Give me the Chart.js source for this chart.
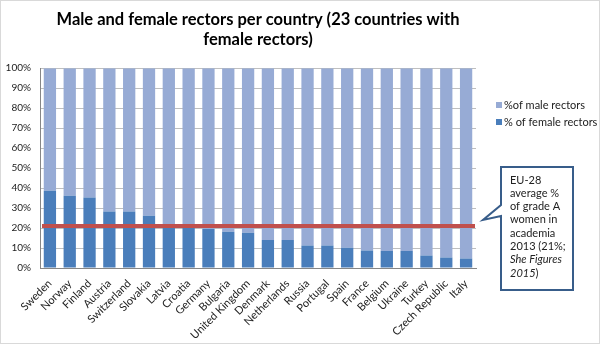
<!DOCTYPE html>
<html>
<head>
<meta charset="utf-8">
<script src="https://cdn.jsdelivr.net/npm/chart.js@4"></script>
<style>
  html, body { margin: 0; padding: 0; background: #fff; }
  #wrap { width: 600px; height: 344px; }
</style>
</head>
<body>
<div id="wrap"><canvas id="rectorsChart" width="600" height="344"></canvas></div>
<script>
const countries = ['Sweden', 'Norway', 'Finland', 'Austria', 'Switzerland', 'Slovakia', 'Latvia', 'Croatia',
    'Germany', 'Bulgaria', 'United Kingdom', 'Denmark', 'Netherlands', 'Russia', 'Portugal', 'Spain',
    'France', 'Belgium', 'Ukraine', 'Turkey', 'Czech Republic', 'Italy'];
const femaleShare = [38.7, 36.2, 35.3, 28.3, 28.3, 26.2, 21.0, 20.5, 19.5, 18.2, 17.7, 14.0, 14.0, 11.3,
    11.3, 10.2, 8.8, 8.5, 8.5, 6.3, 5.2, 4.7];
const maleShare = [61.3, 63.8, 64.7, 71.7, 71.7, 73.8, 79.0, 79.5, 80.5, 81.8, 82.3, 86.0, 86.0, 88.7,
    88.7, 89.8, 91.2, 91.5, 91.5, 93.7, 94.8, 95.3];
const euAverage = 21;
const yTicks = [0, 10, 20, 30, 40, 50, 60, 70, 80, 90, 100];
const calloutLines = ['EU-28', 'average %', 'of grade A', 'women in', 'academia', '2013 (21%;'];

const FONT = 'Lato, "Open Sans", sans-serif';

// EU average line across the whole plot area, on top of the bars
const avgLine = {
    id: 'avgLine',
    afterDatasetsDraw(chart) {
        const { ctx: c, chartArea: a, scales: { y } } = chart;
        const py = y.getPixelForValue(euAverage);
        c.save();
        c.strokeStyle = '#c0504d';
        c.lineWidth = 4;
        c.beginPath();
        c.moveTo(a.left + 2, py);
        c.lineTo(a.right - 1, py);
        c.stroke();
        c.restore();
    }
};

// callout box, legend and chart frame
const extras = {
    id: 'extras',
    afterDraw(chart) {
        const c = chart.ctx;
        c.save();

        // outer frame
        c.strokeStyle = '#d9d9d9';
        c.lineWidth = 1;
        c.strokeRect(0.5, 0.5, chart.width - 1, chart.height - 1);

        // legend (male first, like the original)
        const legendItems = [chart.data.datasets[1], chart.data.datasets[0]];
        c.font = '11px ' + FONT;
        c.textBaseline = 'middle';
        legendItems.forEach((ds, i) => {
            const y = 105 + i * 17;
            c.fillStyle = ds.backgroundColor;
            c.fillRect(496, y - 3, 6, 6);
            c.fillStyle = '#222';
            c.fillText(ds.label, 504, y);
        });

        // callout
        c.beginPath();
        c.moveTo(501, 167);
        c.lineTo(573, 167);
        c.lineTo(573, 290);
        c.lineTo(501, 290);
        c.lineTo(501, 216);
        c.lineTo(483, 220);
        c.lineTo(501, 205);
        c.closePath();
        c.fillStyle = '#fff';
        c.fill();
        c.strokeStyle = '#385d8a';
        c.lineWidth = 2;
        c.stroke();

        c.fillStyle = '#222';
        c.font = '11px ' + FONT;
        calloutLines.forEach((t, i) => c.fillText(t, 510, 180 + i * 13.3));
        c.font = 'italic 11px ' + FONT;
        c.fillText('She Figures', 510, 180 + 6 * 13.3);
        c.fillText('2015', 510, 180 + 7 * 13.3);
        const w = c.measureText('2015').width;
        c.font = '11px ' + FONT;
        c.fillText(')', 510 + w, 180 + 7 * 13.3);

        c.restore();
    }
};

const ctx = document.getElementById('rectorsChart').getContext('2d');
new Chart(ctx, {
    type: 'bar',
    data: {
        labels: countries,
        datasets: [
            {
                label: '% of female rectors',
                data: femaleShare,
                backgroundColor: '#4a7ebb',
                categoryPercentage: 0.62,
                barPercentage: 1
            },
            {
                label: '%of male rectors',
                data: maleShare,
                backgroundColor: '#97abd5',
                categoryPercentage: 0.62,
                barPercentage: 1
            }
        ]
    },
    options: {
        responsive: false,
        animation: false,
        layout: { padding: { left: 4, right: 124, top: 4, bottom: 6 } },
        plugins: {
            legend: { display: false },
            tooltip: { enabled: false },
            title: {
                display: true,
                fullSize: false,
                text: ['Male and female rectors per country (23 countries with', 'female rectors)'],
                color: '#000',
                font: { family: FONT, size: 16.5, weight: 'bold', lineHeight: 1.25 },
                padding: { top: 5, bottom: 18 }
            }
        },
        scales: {
            x: {
                stacked: true,
                grid: { display: false },
                border: { color: '#868686' },
                ticks: {
                    minRotation: 45, maxRotation: 45, autoSkip: false,
                    color: '#222', font: { family: FONT, size: 11 }, padding: 1
                },
                afterFit: scale => { scale.height = 70; }
            },
            y: {
                stacked: true,
                min: 0, max: 100,
                border: { color: '#868686' },
                grid: { color: '#bfbfbf', drawTicks: false },
                afterBuildTicks: scale => { scale.ticks = yTicks.map(v => ({ value: v })); },
                ticks: {
                    callback: v => v + '%',
                    color: '#222', font: { family: FONT, size: 10 }, padding: 9
                },
                afterFit: scale => { scale.width = 36; }
            }
        }
    },
    plugins: [avgLine, extras]
});
</script>
</body>
</html>
